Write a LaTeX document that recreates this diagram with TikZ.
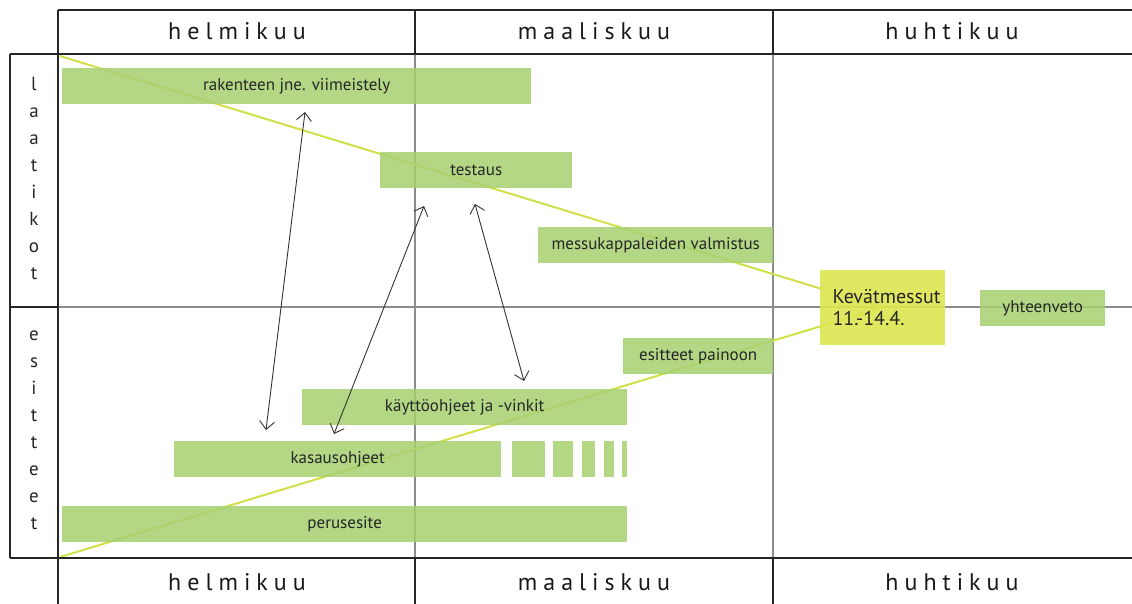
\documentclass[tikz,border=0pt]{standalone}
\usepackage{fontspec}
\setmainfont{PT Sans}
\usetikzlibrary{arrows.meta,backgrounds}
\definecolor{barGreen}{RGB}{166,208,112}
\definecolor{fairYellow}{RGB}{221,230,80}
\definecolor{lineYellow}{RGB}{208,224,70}
\begin{document}
\begin{tikzpicture}[
  x=1pt, y=-1pt,
  frame/.style={line width=2.6pt, black!85},
  grid/.style={line width=1.4pt, black!45},
  trend/.style={line width=2pt, lineYellow},
  month/.style={font=\fontsize{24}{28}\selectfont\addfontfeatures{LetterSpace=25}, text=black!90},
  side/.style={font=\fontsize{19}{27}\selectfont, align=center, text=black!85},
  task/.style={fill=barGreen, fill opacity=0.85, text opacity=1, inner sep=0pt,
    anchor=north west, minimum height=36pt, font=\fontsize{17}{20}\selectfont, text=black!85},
  fair/.style={fill=fairYellow, fill opacity=0.9, text opacity=1, minimum width=125pt,
    minimum height=75pt, text width=100pt, align=left, font=\fontsize{20}{22}\selectfont, text=black!85},
  link/.style={{Straight Barb[length=8pt,width=15pt]}-{Straight Barb[length=8pt,width=15pt]},
    line width=0.9pt, black!80}
]
  \useasboundingbox (0,0) rectangle (1132,604);

  % frame
  \draw[frame] (58,10) -- (1132,10);
  \draw[frame] (10,54) -- (1132,54);
  \draw[frame] (10,558) -- (1132,558);
  \draw[frame] (58,10) -- (58,604);
  \draw[frame] (10,54) -- (10,558);
  \draw[frame] (10,307) -- (58,307);
  \draw[frame] (415,10) -- (415,54);
  \draw[frame] (773,10) -- (773,54);
  \draw[frame] (415,558) -- (415,604);
  \draw[frame] (773,558) -- (773,604);

  % months
  \node[month] (feb) at (237,31) {helmikuu};
  \node[month] (mar) at (594,31) {maaliskuu};
  \node[month] (apr) at (952,31) {huhtikuu};
  \node[month] (febb) at (237,582) {helmikuu};
  \node[month] (marb) at (594,582) {maaliskuu};
  \node[month] (aprb) at (952,582) {huhtikuu};

  % rows
  \node[side] (laatikot) at (34,178) {l\\a\\a\\t\\i\\k\\o\\t};
  \node[side] (esitteet) at (34,430) {e\\s\\i\\t\\t\\e\\e\\t};

  % tasks
  \node[task, minimum width=469pt] (viimeistely) at (62,68) {rakenteen jne. viimeistely};
  \node[task, minimum width=192pt] (testaus) at (380,152) {testaus};
  \node[task, minimum width=235pt] (valmistus) at (538,227) {messukappaleiden valmistus};
  \node[fair] (messut) at (882.5,307.5) {Kevätmessut\\11.-14.4.};
  \node[task, minimum width=125pt] (yhteenveto) at (980,290) {yhteenveto};
  \node[task, minimum width=150pt] (painoon) at (623,338) {esitteet painoon};
  \node[task, minimum width=325pt] (vinkit) at (302,389) {käyttöohjeet ja -vinkit};
  \node[task, minimum width=327pt] (kasaus) at (174,441) {kasausohjeet};
  \node[task, minimum width=33pt] (kasaus1) at (512,441) {};
  \node[task, minimum width=20pt] (kasaus2) at (553,441) {};
  \node[task, minimum width=13pt] (kasaus3) at (582,441) {};
  \node[task, minimum width=10pt] (kasaus4) at (604,441) {};
  \node[task, minimum width=5pt] (kasaus5) at (622,441) {};
  \node[task, minimum width=565pt] (perusesite) at (62,506) {perusesite};

  % grid and trend lines behind the bars
  \coordinate (topleft) at (60,56);
  \coordinate (botleft) at (60,557);
  \begin{scope}[on background layer]
    \draw[grid] (415,54) -- (415,558);
    \draw[grid] (773,54) -- (773,558);
    \draw[grid] (58,307) -- (1132,307);
    \draw[trend] (topleft) -- (messut.center);
    \draw[trend] (botleft) -- (messut.center);
  \end{scope}

  % dependencies
  \coordinate (d1a) at (305,112);
  \coordinate (d1b) at (266,430);
  \coordinate (d2a) at (424,206);
  \coordinate (d2b) at (334,434);
  \coordinate (d3a) at (475,204);
  \coordinate (d3b) at (524,381);
  \draw[link] (d1a) -- (d1b);
  \draw[link] (d2a) -- (d2b);
  \draw[link] (d3a) -- (d3b);
\end{tikzpicture}
\end{document}
